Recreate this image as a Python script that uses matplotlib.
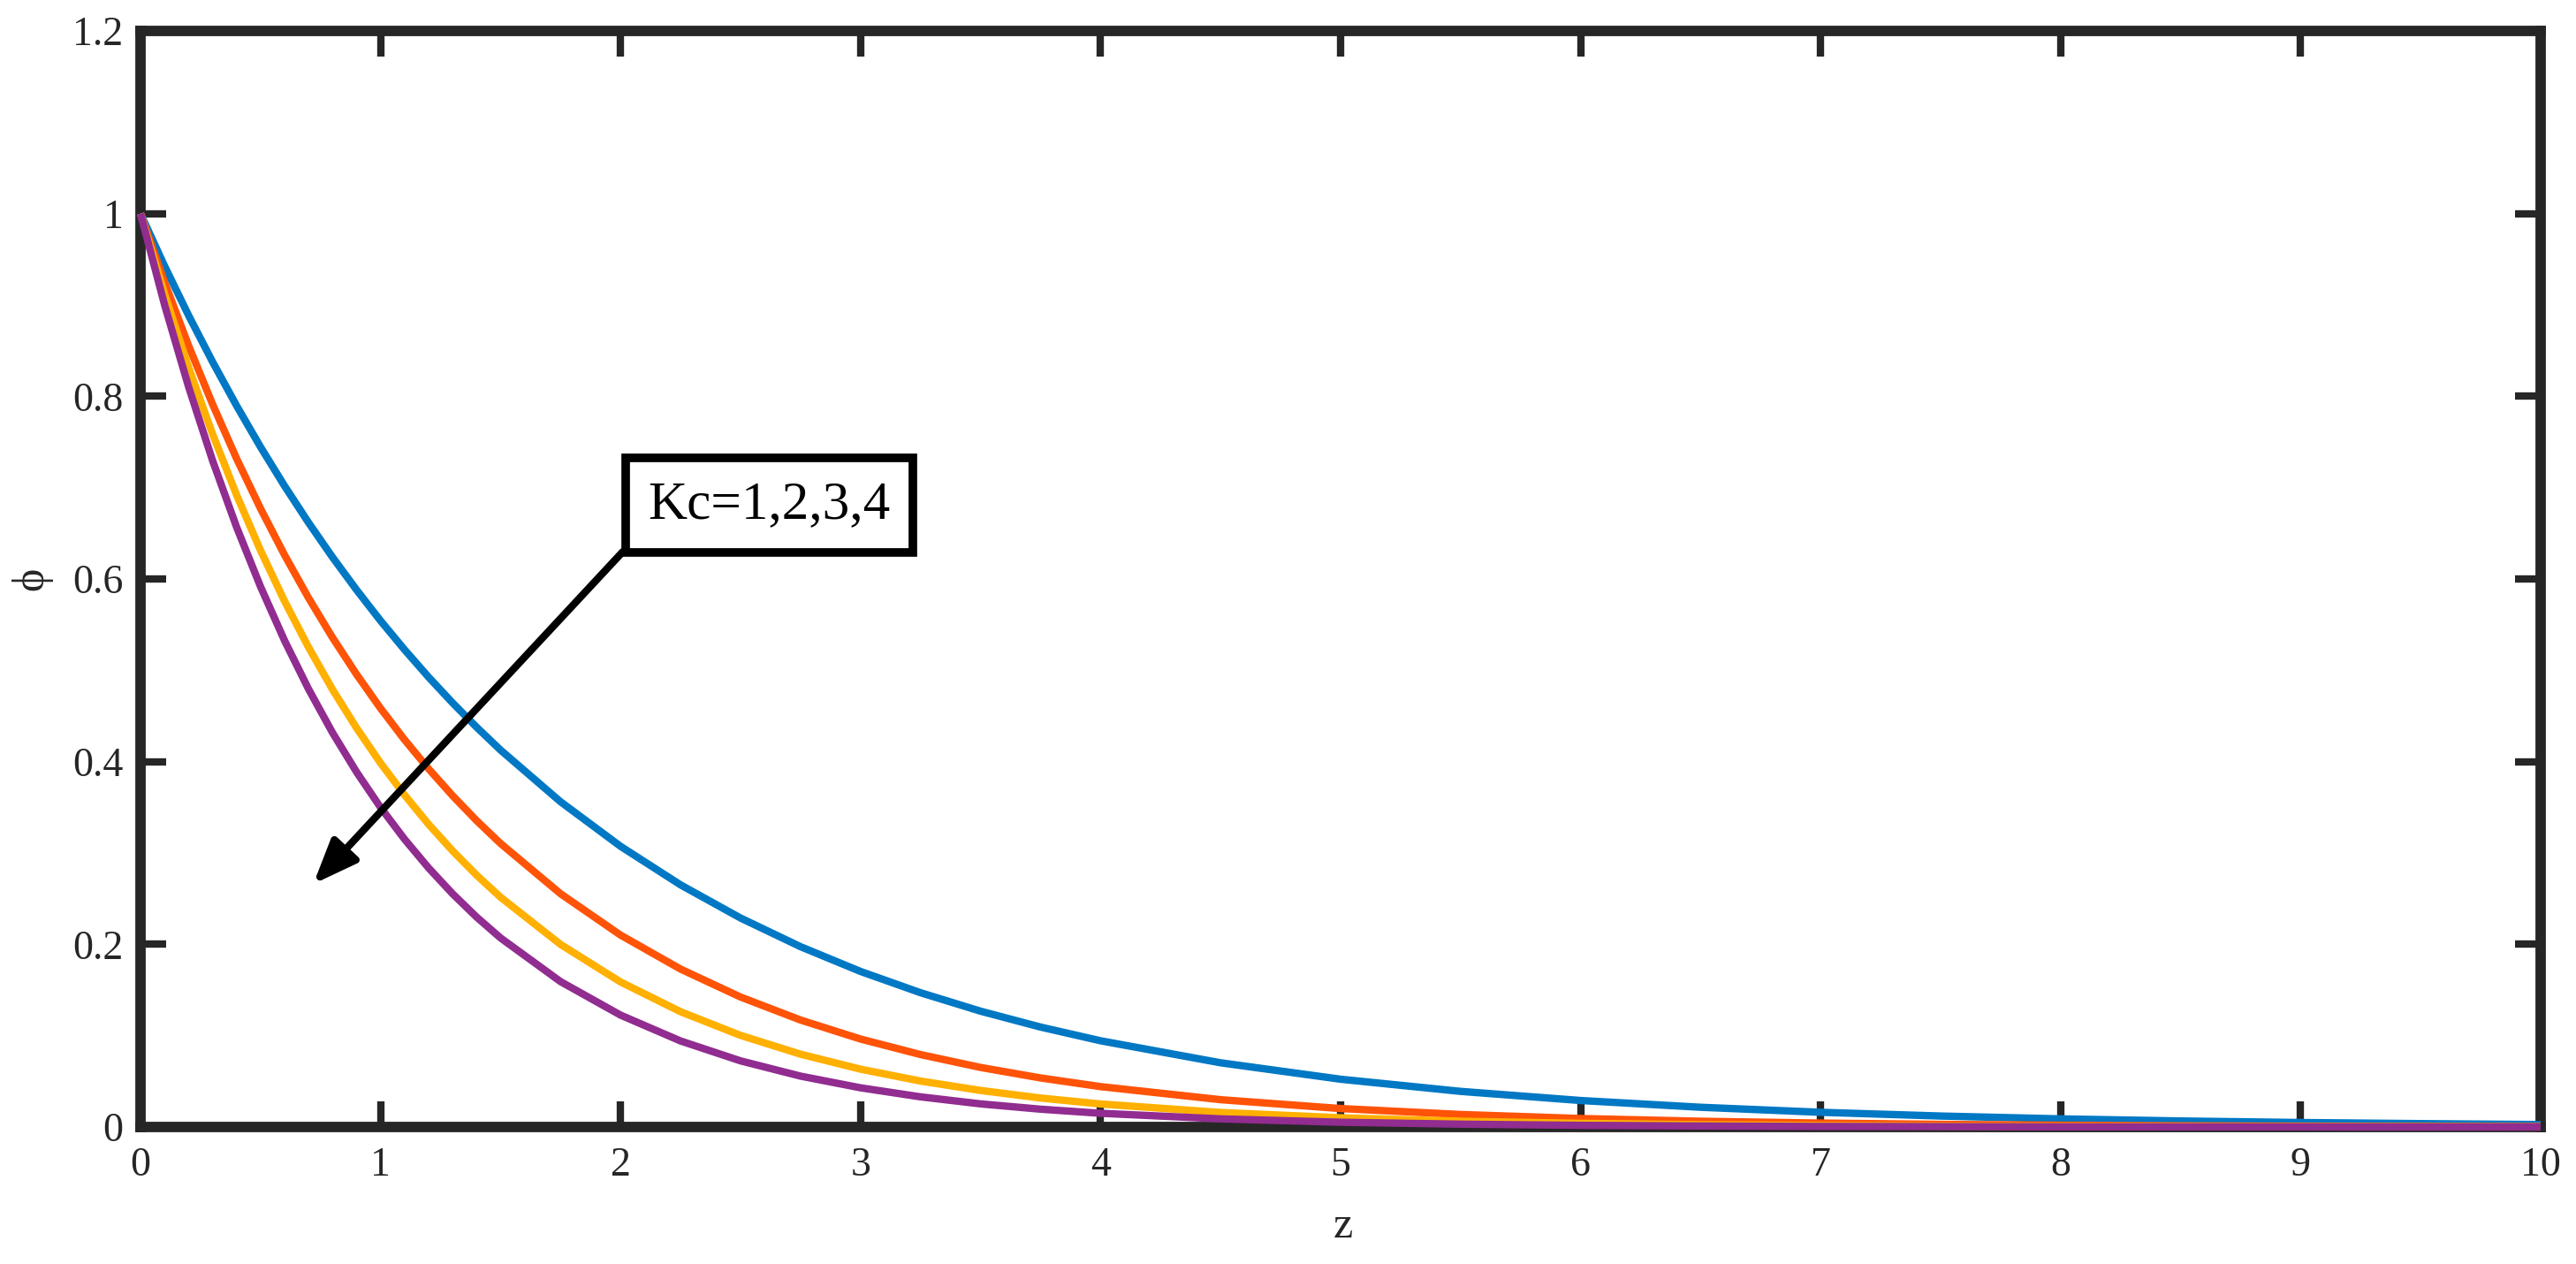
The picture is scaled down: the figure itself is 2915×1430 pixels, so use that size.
import matplotlib
matplotlib.use("Agg")
import matplotlib.pyplot as plt

# ---- data ----
z = [0.0, 0.1, 0.2, 0.3, 0.4, 0.5, 0.6, 0.7, 0.8, 0.9, 1.0, 1.1, 1.2, 1.3, 1.4, 1.5,
     1.75, 2.0, 2.25, 2.5, 2.75, 3.0, 3.25, 3.5, 3.75, 4.0,
     4.5, 5.0, 5.5, 6.0, 6.5, 7.0, 7.5, 8.0, 8.5, 9.0, 9.5, 10.0]

phi_kc1 = [1.0, 0.9427, 0.8887, 0.8378, 0.7898, 0.7445, 0.7019, 0.6617, 0.6238, 0.5881,
           0.5543, 0.5226, 0.4926, 0.4644, 0.4378, 0.4127,
           0.3561, 0.3073, 0.2651, 0.2288, 0.1974, 0.1703, 0.1470, 0.1268, 0.1094, 0.0944,
           0.0703, 0.0523, 0.0390, 0.0290, 0.0216, 0.0161, 0.0120, 0.0089, 0.0066, 0.0049,
           0.0037, 0.0027]
phi_kc2 = [1.0, 0.9250, 0.8556, 0.7914, 0.7320, 0.6771, 0.6263, 0.5793, 0.5358, 0.4956,
           0.4584, 0.4240, 0.3922, 0.3628, 0.3355, 0.3104,
           0.2554, 0.2101, 0.1729, 0.1423, 0.1171, 0.0963, 0.0793, 0.0652, 0.0537, 0.0442,
           0.0299, 0.0202, 0.0137, 0.0093, 0.0063, 0.0043, 0.0029, 0.0020, 0.0013, 0.0009,
           0.0006, 0.0004]
phi_kc3 = [1.0, 0.9121, 0.8319, 0.7588, 0.6921, 0.6313, 0.5758, 0.5252, 0.4790, 0.4369,
           0.3985, 0.3635, 0.3315, 0.3024, 0.2758, 0.2516,
           0.1999, 0.1588, 0.1262, 0.1003, 0.0797, 0.0633, 0.0503, 0.0400, 0.0317, 0.0252,
           0.0159, 0.0101, 0.0063, 0.0040, 0.0025, 0.0016, 0.0010, 0.0006, 0.0004, 0.0003,
           0.0002, 0.0001]
phi_kc4 = [1.0, 0.9003, 0.8106, 0.7298, 0.6570, 0.5916, 0.5326, 0.4795, 0.4317, 0.3887,
           0.3499, 0.3151, 0.2837, 0.2554, 0.2299, 0.2070,
           0.1592, 0.1225, 0.0942, 0.0724, 0.0557, 0.0429, 0.0330, 0.0253, 0.0195, 0.0150,
           0.0089, 0.0052, 0.0031, 0.0018, 0.0011, 0.0006, 0.0004, 0.0002, 0.0001, 0.0001,
           0.0000, 0.0000]

series = [phi_kc1, phi_kc2, phi_kc3, phi_kc4]
colors = ["#0078C4", "#FF5308", "#FFB000", "#912C90"]

x_ticks = [0, 1, 2, 3, 4, 5, 6, 7, 8, 9, 10]
x_tick_labels = ["0", "1", "2", "3", "4", "5", "6", "7", "8", "9", "10"]
y_ticks = [0, 0.2, 0.4, 0.6, 0.8, 1.0, 1.2]
y_tick_labels = ["0", "0.2", "0.4", "0.6", "0.8", "1", "1.2"]

annot_text = "Kc=1,2,3,4"
arrow_tip = (0.72, 0.266)
arrow_tail = (2.01, 0.63)
box_center = (2.62, 0.681)

# ---- figure ----
plt.rcParams['font.family'] = ['Liberation Serif', 'DejaVu Serif']

W, H = 2915, 1430
fig = plt.figure(figsize=(W / 100, H / 100), dpi=100)
ax = fig.add_axes([159 / W, 1 - 1275 / H, (2875 - 159) / W, (1275 - 35) / H])

for s, c in zip(series, colors):
    ax.plot(z, s, color=c, lw=6, clip_on=False, zorder=3, solid_capstyle='butt',
            solid_joinstyle='round')

ax.set_xlim(0, 10)
ax.set_ylim(0, 1.2)
ax.set_xticks(x_ticks)
ax.set_xticklabels(x_tick_labels)
ax.set_yticks(y_ticks)
ax.set_yticklabels(y_tick_labels)

spine_c = "#262626"
for sp in ax.spines.values():
    sp.set_linewidth(8.5)
    sp.set_color(spine_c)
    sp.set_zorder(2.5)

ax.tick_params(direction='in', length=21, width=6, color=spine_c,
               top=True, right=True, labelsize=33, labelcolor="#262626")
ax.tick_params(axis='x', pad=16)
ax.tick_params(axis='y', pad=14)

ax.set_xlabel('z', fontsize=36, color="#262626")
ax.xaxis.set_label_coords((1520 - 159) / 2716, -0.072)
ax.set_ylabel('ϕ', fontsize=36, color="#262626", va='center', ha='center',
              rotation_mode='default')
ax.yaxis.set_label_coords((36 - 159) / 2716, 0.5)

ax.annotate('', xy=arrow_tip, xytext=arrow_tail,
            arrowprops=dict(arrowstyle='-|>,head_length=1.5,head_width=0.6',
                            mutation_scale=20, lw=6, color='black',
                            shrinkA=0, shrinkB=0), zorder=4)
ax.text(box_center[0], box_center[1], annot_text, fontsize=44, color='black',
        ha='center', va='center', zorder=5,
        bbox=dict(boxstyle='square,pad=0.42', facecolor='white',
                  edgecolor='black', linewidth=7))

fig.savefig('out.png', dpi=100, facecolor='white')
